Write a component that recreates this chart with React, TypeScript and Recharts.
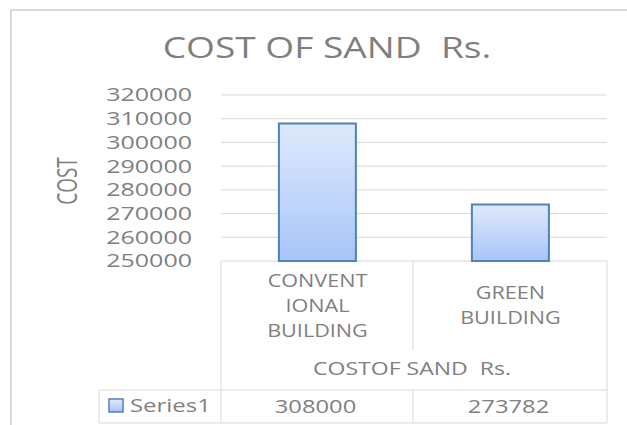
import React from "react";
import { Bar, BarChart, CartesianGrid, XAxis, YAxis } from "recharts";

// values
const title = "COST OF SAND  Rs.";
const axisTitle = "COSTOF SAND  Rs.";
const yAxisLabel = "COST";
const seriesName = "Series1";
const categories = ["CONVENTIONAL BUILDING", "GREEN BUILDING"];
const categoryLines = [
  ["CONVENT", "IONAL", "BUILDING"],
  ["GREEN", "BUILDING"],
];
const series1 = [308000, 273782];
const yTicks = [250000, 260000, 270000, 280000, 290000, 300000, 310000, 320000];

const data = categories.map((c, i) => ({ name: c, value: series1[i] }));

const GRAY = "#7f7f7f";
const LINE = "#d9d9d9";
const FONT = "'Open Sans', sans-serif";

function Txt({
  x,
  y,
  sx = 1.3,
  size = 18,
  anchor = "middle",
  children,
}: {
  x: number;
  y: number;
  sx?: number;
  size?: number;
  anchor?: "start" | "middle" | "end";
  children: React.ReactNode;
}) {
  return (
    <text
      x={x / sx}
      y={y}
      transform={`scale(${sx},1)`}
      textAnchor={anchor}
      fontSize={size}
      fontFamily={FONT}
      fill={GRAY}
      style={{ whiteSpace: "pre" }}
    >
      {children}
    </text>
  );
}

function YTick(props: any) {
  const { x, y, payload } = props;
  return (
    <Txt x={x} y={y + 6.5} anchor="end" sx={1.39}>
      {String(payload.value)}
    </Txt>
  );
}

function XTick(props: any) {
  const { x, y, payload } = props;
  const idx = payload.index ?? categories.indexOf(payload.value);
  const lines = categoryLines[idx] || [String(payload.value)];
  const mid = (lines.length - 1) / 2;
  return (
    <g>
      {lines.map((l, i) => (
        <Txt key={i} x={x} y={y + 51 + (i - mid) * 25} sx={1.2}>
          {l}
        </Txt>
      ))}
      <Txt x={x - 2} y={y + 152} sx={1.32}>
        {String(series1[idx])}
      </Txt>
    </g>
  );
}

export default function App() {
  return (
    <div
      style={{
        position: "absolute",
        left: 0,
        top: 0,
        width: 627,
        height: 425,
        background: "#fff",
      }}
    >
      <BarChart
        width={627}
        height={425}
        data={data}
        margin={{ top: 95, right: 20, bottom: 0, left: 0 }}
        barCategoryGap="30%"
      >
        <defs>
          <linearGradient id="barGrad" x1="0" y1="0" x2="0" y2="1">
            <stop offset="0%" stopColor="#dfe9fc" />
            <stop offset="100%" stopColor="#a7c5f8" />
          </linearGradient>
        </defs>
        <CartesianGrid vertical={false} stroke={LINE} />
        <XAxis
          dataKey="name"
          height={164}
          axisLine={false}
          tickLine={false}
          tickSize={0}
          tickMargin={0}
          interval={0}
          tick={<XTick />}
        />
        <YAxis
          width={221}
          domain={[250000, 320000]}
          ticks={yTicks}
          axisLine={false}
          tickLine={false}
          tickSize={0}
          tickMargin={29}
          tick={<YTick />}
        />
        <Bar
          dataKey="value"
          name={seriesName}
          fill="url(#barGrad)"
          stroke="#4f81bd"
          strokeWidth={2}
          isAnimationActive={false}
        />
      </BarChart>
      <svg
        width={627}
        height={425}
        style={{ position: "absolute", left: 0, top: 0, pointerEvents: "none" }}
      >
        <defs>
          <linearGradient id="legGrad" x1="0" y1="0" x2="0" y2="1">
            <stop offset="0%" stopColor="#dfe9fc" />
            <stop offset="100%" stopColor="#a7c5f8" />
          </linearGradient>
        </defs>
        {/* chart frame */}
        <path d="M11,425 V10 H627" fill="none" stroke={LINE} strokeWidth={2} />
        <Txt x={327} y={58} size={29} sx={1.28}>
          {title}
        </Txt>
        <text
          transform="translate(67,181) scale(1.4,1) rotate(-90)"
          textAnchor="middle"
          dy="0.36em"
          fontSize={19}
          fontFamily={FONT}
          fill={GRAY}
        >
          {yAxisLabel}
        </text>
        {/* data table */}
        <path
          d="M221,261 V423 M413,261 V350 M607,261 V423 M99,390 H607 M99,423 H607 M99,390 V423 M413,390 V423"
          fill="none"
          stroke={LINE}
          strokeWidth={1}
        />
        <Txt x={412} y={375} sx={1.28}>
          {axisTitle}
        </Txt>
        <rect
          x={109}
          y={399}
          width={14}
          height={13}
          fill="url(#legGrad)"
          stroke="#4f81bd"
          strokeWidth={1.5}
        />
        <Txt x={130} y={412} anchor="start" sx={1.33}>
          {seriesName}
        </Txt>
      </svg>
    </div>
  );
}
